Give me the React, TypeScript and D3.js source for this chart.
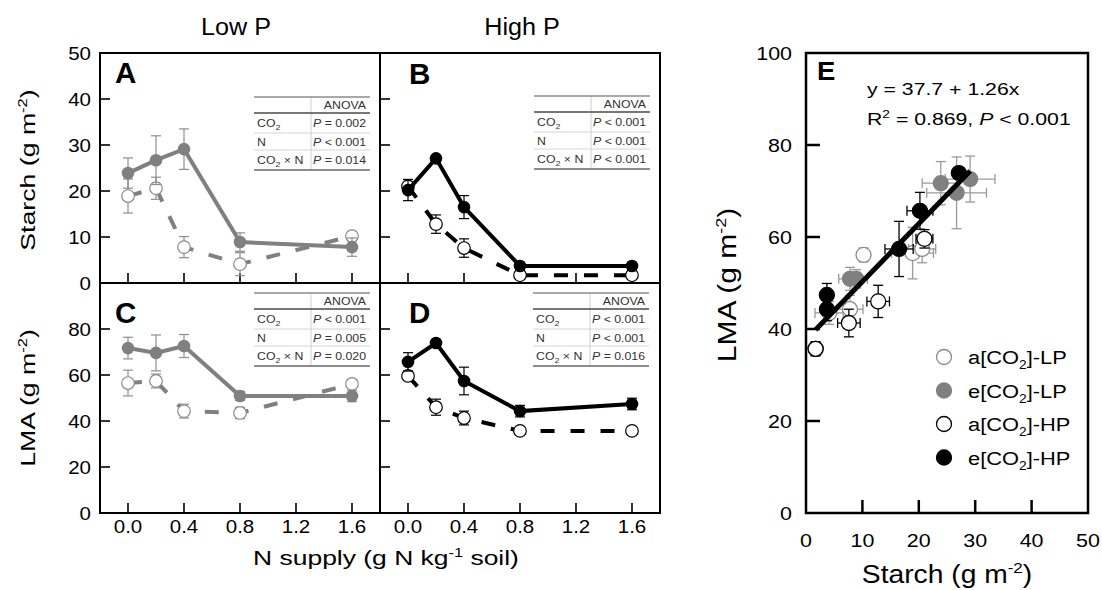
import React from "react";
import * as d3 from "d3";

// N supply levels (g N kg-1 soil)
const nSupply = [0, 0.2, 0.4, 0.8, 1.6];
const nTicks = [0, 0.4, 0.8, 1.2, 1.6];
const starchTicks = [0, 10, 20, 30, 40, 50];
const lmaTicks = [0, 20, 40, 60, 80];
const eTicksX = [0, 10, 20, 30, 40, 50];
const eTicksY = [0, 20, 40, 60, 80, 100];

// Starch (g m-2), mean and SE
const starchAmbLP = [18.9, 20.6, 7.8, 4.1, 10.2];
const starchAmbLPErr = [3.7, 2.4, 2.3, 2.5, 1.0];
const starchElevLP = [23.9, 26.7, 29.1, 8.9, 7.8];
const starchElevLPErr = [3.3, 5.3, 4.4, 2.0, 2.0];
const starchAmbHP = [21.0, 12.8, 7.6, 1.7, 1.7];
const starchAmbHPErr = [1.5, 2.0, 2.0, 0.8, 0.8];
const starchElevHP = [20.2, 27.1, 16.5, 3.7, 3.7];
const starchElevHPErr = [2.3, 0.6, 2.5, 0.6, 0.6];

// LMA (g m-2), mean and SE
const lmaAmbLP = [56.5, 57.4, 44.3, 43.5, 56.1];
const lmaAmbLPErr = [5.6, 3.0, 3.0, 2.5, 1.5];
const lmaElevLP = [71.7, 69.6, 72.6, 50.9, 50.9];
const lmaElevLPErr = [4.7, 7.8, 5.0, 2.0, 2.5];
const lmaAmbHP = [59.6, 46.0, 41.3, 35.7, 35.7];
const lmaAmbHPErr = [2.0, 3.5, 3.0, 1.5, 1.5];
const lmaElevHP = [65.7, 73.9, 57.4, 44.3, 47.4];
const lmaElevHPErr = [4.0, 1.0, 6.0, 2.5, 2.5];

// ANOVA tables
const anovaTerms = ["CO2", "N", "CO2 × N"];
const anovaA = [["=", "0.002"], ["<", "0.001"], ["=", "0.014"]];
const anovaB = [["<", "0.001"], ["<", "0.001"], ["<", "0.001"]];
const anovaC = [["<", "0.001"], ["=", "0.005"], ["=", "0.020"]];
const anovaD = [["<", "0.001"], ["<", "0.001"], ["=", "0.016"]];

// regression in panel E
const regIntercept = 37.7;
const regSlope = 1.26;

const legendLabels = ["a[CO2]-LP", "e[CO2]-LP", "a[CO2]-HP", "e[CO2]-HP"];

const FONT = "'Liberation Sans', Arial, sans-serif";
const GREY = "#808080";
const GREY_ERR = "#8e8e8e";

const PW = 280, PH = 230;

const T = ({ x, y, rot = 0, sx = 1.15, size, anchor = "start", weight = "normal", fill = "#000", children }: any) => (
  <text
    transform={`translate(${x},${y})${rot ? ` rotate(${rot})` : ""} scale(${sx},1)`}
    fontSize={size}
    textAnchor={anchor}
    fontWeight={weight}
    fontFamily={FONT}
    fill={fill}
  >
    {children}
  </text>
);

// turn "CO2" into CO with subscript 2
function chem(s: string, subSize: number, shift: number) {
  const parts = s.split("CO2");
  const out: any[] = [];
  parts.forEach((p, i) => {
    if (i > 0) {
      out.push(<tspan key={"a" + i}>CO</tspan>);
      out.push(<tspan key={"b" + i} dy={shift} fontSize={subSize}>2</tspan>);
      if (p) out.push(<tspan key={"c" + i} dy={-shift}>{p}</tspan>);
    } else if (p) out.push(<tspan key="p0">{p}</tspan>);
  });
  return out;
}

const AnovaTable = ({ x, y, w, col, rows }: any) => {
  const hs = [16, 20, 17, 20];
  const ys = [0];
  hs.forEach((h) => ys.push(ys[ys.length - 1] + h));
  return (
    <g transform={`translate(${x},${y})`}>
      <line x1={col} x2={col} y1={0} y2={ys[4]} stroke="#cfcfcf" strokeWidth={1} />
      <line x1={0} x2={w} y1={ys[2]} y2={ys[2]} stroke="#d4d4d4" strokeWidth={1} />
      <line x1={0} x2={w} y1={ys[3]} y2={ys[3]} stroke="#d4d4d4" strokeWidth={1} />
      <line x1={0} x2={w} y1={0} y2={0} stroke="#8c8c8c" strokeWidth={1.5} />
      <line x1={0} x2={w} y1={ys[1]} y2={ys[1]} stroke="#4a4a4a" strokeWidth={1.6} />
      <line x1={0} x2={w} y1={ys[4]} y2={ys[4]} stroke="#8c8c8c" strokeWidth={2} />
      <T x={w - 4} y={12} size={11} sx={1.12} anchor="end" fill="#333">ANOVA</T>
      {rows.map((r: string[], i: number) => (
        <g key={i}>
          <T x={3} y={ys[i + 1] + hs[i + 1] / 2 + 4} size={11} sx={1.12} fill="#333">
            {chem(anovaTerms[i], 8, 3)}
          </T>
          <T x={w - 4} y={ys[i + 1] + hs[i + 1] / 2 + 4} size={11} sx={1.12} anchor="end" fill="#333">
            <tspan fontStyle="italic">P</tspan>
            {` ${r[0]} ${r[1]}`}
          </T>
        </g>
      ))}
    </g>
  );
};

const LinePanel = ({ x0, y0, yDomain, yTicks, letter, letterDx, letterY, amb, ambErr, elev, elevErr, black, table, tableX, tableY }: any) => {
  const x = d3.scaleLinear().domain([-0.2, 1.8]).range([x0, x0 + PW]);
  const y = d3.scaleLinear().domain(yDomain).range([y0 + PH, y0]);
  const line = d3.line<number>().x((_, i) => x(nSupply[i])).y((d) => y(d));
  const col = black ? "#000" : GREY;
  const errCol = black ? "#000" : GREY_ERR;
  const errBars = (m: number[], e: number[]) =>
    m.map((v, i) => (
      <g key={i} stroke={errCol} strokeWidth={1.2}>
        <line x1={x(nSupply[i])} x2={x(nSupply[i])} y1={y(v - e[i])} y2={y(v + e[i])} />
        <line x1={x(nSupply[i]) - 5} x2={x(nSupply[i]) + 5} y1={y(v - e[i])} y2={y(v - e[i])} />
        <line x1={x(nSupply[i]) - 5} x2={x(nSupply[i]) + 5} y1={y(v + e[i])} y2={y(v + e[i])} />
      </g>
    ));
  return (
    <g>
      {yTicks.slice(1, -1).map((t: number) => (
        <line key={t} x1={x0} x2={x0 + 10} y1={y(t)} y2={y(t)} stroke="#000" strokeWidth={1.6} />
      ))}
      {nTicks.map((t) => (
        <line key={t} x1={x(t)} x2={x(t)} y1={y0 + PH} y2={y0 + PH - 10} stroke="#000" strokeWidth={1.6} />
      ))}
      <AnovaTable x={tableX} y={tableY} w={116} col={57} rows={table} />
      {/* ambient CO2: dashed, open */}
      {errBars(amb, ambErr)}
      <path d={line(amb) || ""} fill="none" stroke={col} strokeWidth={4} strokeDasharray="14 16" />
      {amb.map((v: number, i: number) => (
        <circle key={i} cx={x(nSupply[i])} cy={y(v)} r={6.3} fill="#fff" stroke={black ? "#000" : "#8a8a8a"} strokeWidth={1.2} />
      ))}
      {/* elevated CO2: solid, filled */}
      {errBars(elev, elevErr)}
      <path d={line(elev) || ""} fill="none" stroke={col} strokeWidth={4} />
      {elev.map((v: number, i: number) => (
        <circle key={i} cx={x(nSupply[i])} cy={y(v)} r={6.3} fill={col} />
      ))}
      <T x={x0 + letterDx} y={letterY} size={29} sx={1.02} weight="bold">{letter}</T>
      <rect x={x0} y={y0} width={PW} height={PH} fill="none" stroke="#000" strokeWidth={2} />
    </g>
  );
};

export default function App() {
  const xA = d3.scaleLinear().domain([-0.2, 1.8]).range([100, 100 + PW]);
  const xB = d3.scaleLinear().domain([-0.2, 1.8]).range([380, 380 + PW]);
  const yStarch = d3.scaleLinear().domain([0, 50]).range([283, 53]);
  const yLma = d3.scaleLinear().domain([0, 100]).range([513, 283]);

  const xE = d3.scaleLinear().domain([0, 50]).range([806, 1088]);
  const yE = d3.scaleLinear().domain([0, 100]).range([513, 53]);

  const groups = [
    { s: starchAmbLP, se: starchAmbLPErr, l: lmaAmbLP, le: lmaAmbLPErr, fill: "#fff", stroke: "#8a8a8a", err: "#9a9a9a" },
    { s: starchElevLP, se: starchElevLPErr, l: lmaElevLP, le: lmaElevLPErr, fill: GREY, stroke: GREY, err: "#9a9a9a" },
    { s: starchAmbHP, se: starchAmbHPErr, l: lmaAmbHP, le: lmaAmbHPErr, fill: "#fff", stroke: "#000", err: "#000" },
    { s: starchElevHP, se: starchElevHPErr, l: lmaElevHP, le: lmaElevHPErr, fill: "#000", stroke: "#000", err: "#000" },
  ];
  const allStarch = groups.flatMap((g) => g.s);
  const regX = [d3.min(allStarch) as number, d3.max(allStarch) as number];

  return (
    <svg width={1102} height={590} style={{ display: "block", position: "absolute", left: 0, top: 0, background: "#fff" }}>
      <rect width={1102} height={590} fill="#fff" />
      {/* column titles */}
      <T x={236} y={35} size={24} sx={1.05} anchor="middle">Low P</T>
      <T x={522} y={35} size={24} sx={1.05} anchor="middle">High P</T>

      <LinePanel x0={100} y0={53} yDomain={[0, 50]} yTicks={starchTicks} letter="A" letterDx={15} letterY={83}
        amb={starchAmbLP} ambErr={starchAmbLPErr} elev={starchElevLP} elevErr={starchElevLPErr} black={false}
        table={anovaA} tableX={254} tableY={97} />
      <LinePanel x0={380} y0={53} yDomain={[0, 50]} yTicks={starchTicks} letter="B" letterDx={29} letterY={84}
        amb={starchAmbHP} ambErr={starchAmbHPErr} elev={starchElevHP} elevErr={starchElevHPErr} black={true}
        table={anovaB} tableX={534} tableY={96} />
      <LinePanel x0={100} y0={283} yDomain={[0, 100]} yTicks={[0, 20, 40, 60, 80, 100]} letter="C" letterDx={15} letterY={323}
        amb={lmaAmbLP} ambErr={lmaAmbLPErr} elev={lmaElevLP} elevErr={lmaElevLPErr} black={false}
        table={anovaC} tableX={254} tableY={293} />
      <LinePanel x0={380} y0={283} yDomain={[0, 100]} yTicks={[0, 20, 40, 60, 80, 100]} letter="D" letterDx={29} letterY={323}
        amb={lmaAmbHP} ambErr={lmaAmbHPErr} elev={lmaElevHP} elevErr={lmaElevHPErr} black={true}
        table={anovaD} tableX={533} tableY={293} />

      {/* left y tick labels */}
      {starchTicks.map((t) => (
        <T key={"s" + t} x={91} y={yStarch(t) + 6.5} size={18} sx={1.14} anchor="end">{t}</T>
      ))}
      {lmaTicks.map((t) => (
        <T key={"l" + t} x={91} y={yLma(t) + 6.5} size={18} sx={1.14} anchor="end">{t}</T>
      ))}
      {/* x tick labels */}
      {nTicks.map((t) => (
        <T key={"a" + t} x={xA(t)} y={533} size={18} sx={1.14} anchor="middle">{t.toFixed(1)}</T>
      ))}
      {nTicks.map((t) => (
        <T key={"b" + t} x={xB(t)} y={533} size={18} sx={1.14} anchor="middle">{t.toFixed(1)}</T>
      ))}
      <T x={35} y={170} rot={-90} size={21} sx={1.27} anchor="middle">
        Starch (g m<tspan dy={-8} fontSize={13}>-2</tspan><tspan dy={8}>)</tspan>
      </T>
      <T x={35} y={398} rot={-90} size={21} sx={1.27} anchor="middle">
        LMA (g m<tspan dy={-8} fontSize={13}>-2</tspan><tspan dy={8}>)</tspan>
      </T>
      <T x={386} y={565} size={21} sx={1.26} anchor="middle">
        N supply (g N kg<tspan dy={-8} fontSize={13}>-1</tspan><tspan dy={8}> soil)</tspan>
      </T>

      {/* panel E */}
      <g>
        {eTicksY.slice(1, -1).map((t) => (
          <line key={t} x1={806} x2={820} y1={yE(t)} y2={yE(t)} stroke="#000" strokeWidth={2.5} />
        ))}
        {eTicksX.slice(1, -1).map((t) => (
          <line key={t} x1={xE(t)} x2={xE(t)} y1={513} y2={500} stroke="#000" strokeWidth={2.5} />
        ))}
        {groups.map((g, gi) => (
          <g key={gi}>
            {g.s.map((v, i) => (
              <g key={i} stroke={g.err} strokeWidth={1.3}>
                <line x1={xE(v - g.se[i])} x2={xE(v + g.se[i])} y1={yE(g.l[i])} y2={yE(g.l[i])} />
                <line x1={xE(v - g.se[i])} x2={xE(v - g.se[i])} y1={yE(g.l[i]) - 5} y2={yE(g.l[i]) + 5} />
                <line x1={xE(v + g.se[i])} x2={xE(v + g.se[i])} y1={yE(g.l[i]) - 5} y2={yE(g.l[i]) + 5} />
                <line x1={xE(v)} x2={xE(v)} y1={yE(g.l[i] - g.le[i])} y2={yE(g.l[i] + g.le[i])} />
                <line x1={xE(v) - 5} x2={xE(v) + 5} y1={yE(g.l[i] - g.le[i])} y2={yE(g.l[i] - g.le[i])} />
                <line x1={xE(v) - 5} x2={xE(v) + 5} y1={yE(g.l[i] + g.le[i])} y2={yE(g.l[i] + g.le[i])} />
              </g>
            ))}
            {g.s.map((v, i) => (
              <circle key={"c" + i} cx={xE(v)} cy={yE(g.l[i])} r={7.5} fill={g.fill} stroke={g.stroke} strokeWidth={1.3} />
            ))}
          </g>
        ))}
        <line x1={xE(regX[0])} x2={xE(regX[1])} y1={yE(regIntercept + regSlope * regX[0])} y2={yE(regIntercept + regSlope * regX[1])}
          stroke="#000" strokeWidth={5} />
        <rect x={806} y={53} width={282} height={460} fill="none" stroke="#000" strokeWidth={2.5} />
        <T x={817} y={80} size={25} sx={1.1} weight="bold">E</T>
        <T x={867} y={95} size={17} sx={1.25}>y = 37.7 + 1.26x</T>
        <T x={867} y={125} size={17} sx={1.25}>
          R<tspan dy={-7} fontSize={11}>2</tspan><tspan dy={7}> = 0.869, </tspan><tspan fontStyle="italic">P</tspan> &lt; 0.001
        </T>
        {legendLabels.map((lab, i) => (
          <g key={lab}>
            <circle cx={944} cy={357 + i * 33.5} r={7.5} fill={groups[i].fill} stroke={groups[i].stroke} strokeWidth={1.3} />
            <T x={968} y={357 + i * 33.5 + 7} size={19} sx={1.15}>{chem(lab, 12, 5)}</T>
          </g>
        ))}
        {eTicksY.map((t) => (
          <T key={"ey" + t} x={792} y={yE(t) + 7} size={19} sx={1.13} anchor="end">{t}</T>
        ))}
        {eTicksX.map((t) => (
          <T key={"ex" + t} x={xE(t)} y={547} size={19} sx={1.13} anchor="middle">{t}</T>
        ))}
        <T x={947} y={583} size={25} sx={1.13} anchor="middle">
          Starch (g m<tspan dy={-10} fontSize={15}>-2</tspan><tspan dy={10}>)</tspan>
        </T>
        <T x={736} y={285} rot={-90} size={25} sx={1.2} anchor="middle">
          LMA (g m<tspan dy={-10} fontSize={15}>-2</tspan><tspan dy={10}>)</tspan>
        </T>
      </g>
    </svg>
  );
}
